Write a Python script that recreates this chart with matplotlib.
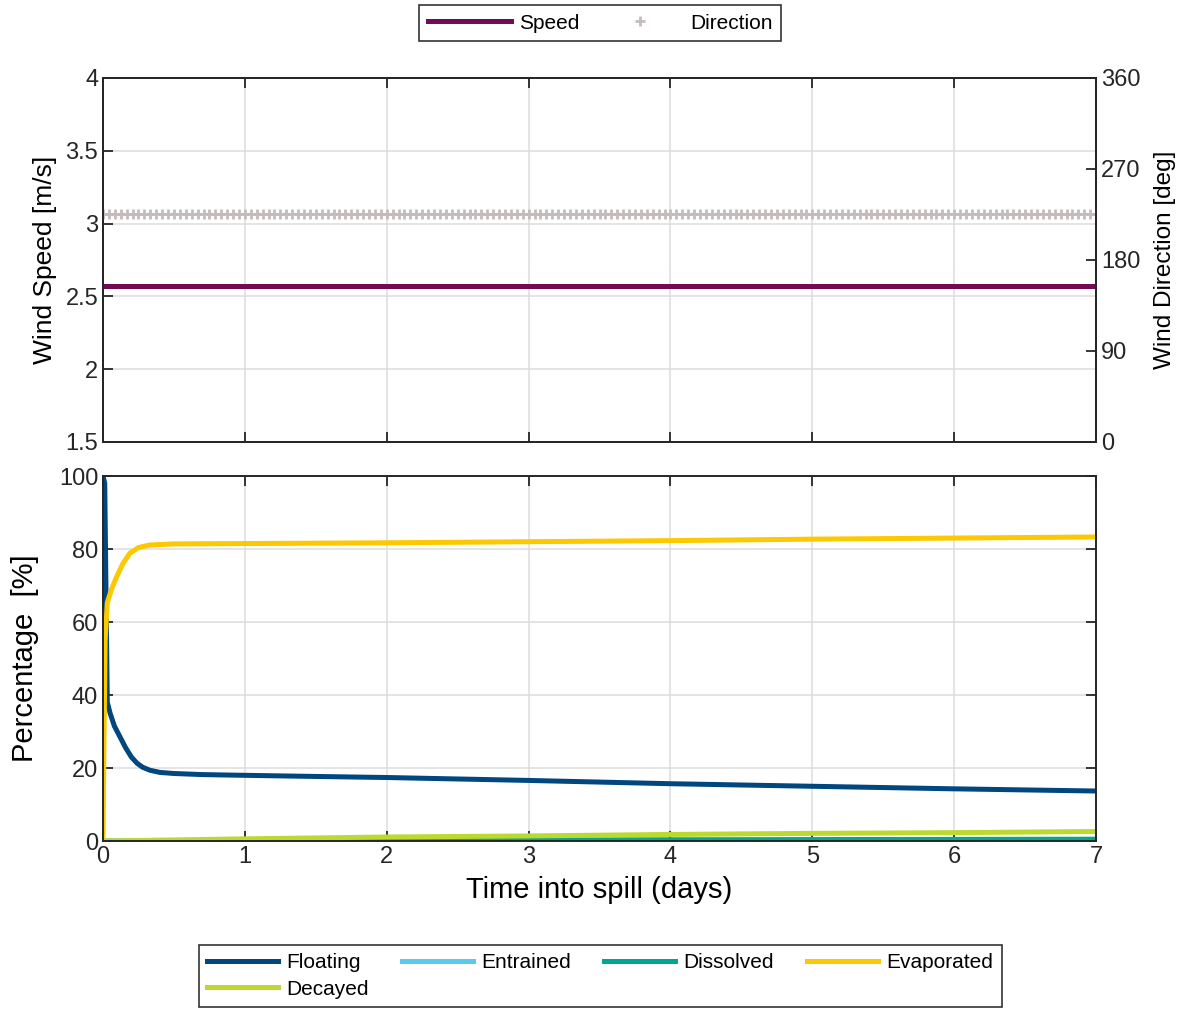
import matplotlib.pyplot as plt
import numpy as np

plt.rcParams['font.family'] = ['Liberation Sans', 'DejaVu Sans']

# wind (constant over the spill)
wind_hours = np.arange(0, 7 * 24 + 1)
wind_time = wind_hours / 24.0
wind_speed = 2.57      # m/s
wind_direction = 225   # deg

# mass balance
float_t = [0, 0.012, 0.03, 0.05, 0.08, 0.12, 0.16, 0.2, 0.24, 0.28, 0.33, 0.4, 0.5, 0.7,
           1.0, 1.32, 2, 3, 4, 5, 6, 7]
float_v = [100, 98, 38, 35, 31.5, 28.5, 25.5, 23, 21.3, 20.2, 19.4, 18.8, 18.5, 18.2,
           18.0, 17.8, 17.4, 16.6, 15.7, 15.0, 14.3, 13.7]

evap_t = [0, 0.006, 0.015, 0.03, 0.06, 0.096, 0.14, 0.19, 0.25, 0.33, 0.5, 1, 2, 3, 4, 5, 6, 7]
evap_v = [0, 25, 55, 65.3, 69, 72.4, 76, 78.9, 80.4, 81.1, 81.4, 81.5, 81.7, 82.0, 82.3, 82.7, 83.0, 83.3]

decay_t = [0, 1, 2, 3, 4, 5, 6, 7]
decay_v = [0, 0.6, 1.1, 1.4, 1.8, 2.1, 2.3, 2.6]

dissolved_t = [0, 1, 2, 3, 4, 5, 6, 7]
dissolved_v = [0, 0.1, 0.2, 0.3, 0.35, 0.4, 0.45, 0.5]

entrained_t = [0, 7]
entrained_v = [0, 0]

c_speed = '#730a55'
c_dir = '#c4bcbc'
c_float = '#00467f'
c_entr = '#5bc8f0'
c_diss = '#00a88f'
c_evap = '#fcc800'
c_decay = '#bcd92f'
ax_col = '#262626'
grid_col = '#dcdcdc'

fig = plt.figure(figsize=(11.87, 10.10), dpi=100)


def style_axes(ax):
    for s in ax.spines.values():
        s.set_color(ax_col)
        s.set_linewidth(1.4)
    ax.tick_params(direction='in', length=7, width=1.3, colors=ax_col,
                   labelsize=17, labelcolor=ax_col)
    ax.grid(True, color=grid_col, linewidth=1.1)
    ax.set_axisbelow(True)


# top panel: wind
ax1 = fig.add_axes([0.0868, 0.5624, 0.8366, 0.3604])
style_axes(ax1)
ax1.plot(wind_time, [wind_speed] * len(wind_time), color=c_speed, lw=3.6, label='Speed')
ax1.set_xlim(0, 7)
ax1.set_ylim(1.5, 4)
ax1.set_yticks([1.5, 2, 2.5, 3, 3.5, 4])
ax1.set_yticklabels(['1.5', '2', '2.5', '3', '3.5', '4'])
ax1.set_xticks(range(8))
ax1.tick_params(axis='x', top=True, labelbottom=False)
ax1.set_ylabel('Wind Speed [m/s]', fontsize=19, labelpad=6)

ax1r = ax1.twinx()
ax1r.plot(wind_time, [wind_direction] * len(wind_time), linestyle='none', marker='+',
          markersize=7.5, markeredgewidth=2.0, color=c_dir, label='Direction')
ax1r.set_ylim(0, 360)
ax1r.set_yticks([0, 90, 180, 270, 360])
for s in ax1r.spines.values():
    s.set_color(ax_col)
    s.set_linewidth(1.4)
ax1r.tick_params(direction='in', length=7, width=1.3, colors=ax_col, labelsize=17)
ax1r.set_ylabel('Wind Direction [deg]', fontsize=17.5, labelpad=10)

h1, l1 = ax1.get_legend_handles_labels()
h2, l2 = ax1r.get_legend_handles_labels()
leg1 = fig.legend(h1 + h2, l1 + l2, loc='center', bbox_to_anchor=(0.5055, 0.977), ncol=2,
                  fontsize=15, frameon=True, fancybox=False, edgecolor='black',
                  handlelength=4.0, columnspacing=0.9, handletextpad=0.4, borderpad=0.4)
leg1.get_frame().set_linewidth(1.2)

# bottom panel: mass balance
ax2 = fig.add_axes([0.0868, 0.1673, 0.8366, 0.3614])
style_axes(ax2)
lw = 3.6
hf, = ax2.plot(float_t, float_v, color=c_float, lw=lw, label='Floating')
he, = ax2.plot(entrained_t, entrained_v, color=c_entr, lw=lw, label='Entrained')
hd, = ax2.plot(dissolved_t, dissolved_v, color=c_diss, lw=lw, label='Dissolved')
hv, = ax2.plot(evap_t, evap_v, color=c_evap, lw=lw, label='Evaporated')
hy, = ax2.plot(decay_t, decay_v, color=c_decay, lw=lw, label='Decayed')
ax2.set_xlim(0, 7)
ax2.set_ylim(0, 100)
ax2.set_xticks(range(8))
ax2.set_yticks([0, 20, 40, 60, 80, 100])
ax2.tick_params(top=True, right=True)
ax2.set_ylabel('Percentage  [%]', fontsize=21, labelpad=14)
ax2.set_xlabel('Time into spill (days)', fontsize=21, labelpad=6)

# legend fills column by column, so order the handles to read row-wise
leg_h = [hf, hy, he, hd, hv]
leg2 = fig.legend(leg_h, [h.get_label() for h in leg_h], loc='center',
                  bbox_to_anchor=(0.5055, 0.0337), ncol=4, fontsize=15, frameon=True,
                  fancybox=False, edgecolor='black', handlelength=3.4,
                  columnspacing=1.6, handletextpad=0.4, borderpad=0.4, labelspacing=0.35)
leg2.get_frame().set_linewidth(1.2)

fig.savefig('out.png', dpi=100)
